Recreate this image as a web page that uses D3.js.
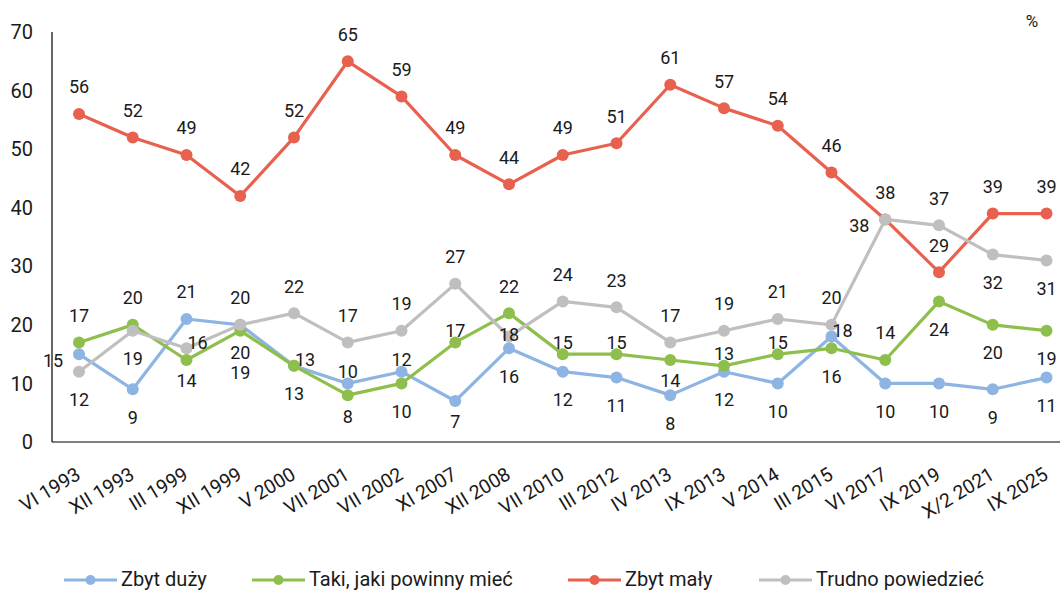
<!DOCTYPE html>
<html>
<head>
<meta charset="utf-8">
<script src="https://cdn.jsdelivr.net/npm/d3@7"></script>
<style>
  body { margin: 0; background: #fff; }
  svg { display: block; font-family: Roboto, "Noto Sans", sans-serif; }
</style>
</head>
<body>
<svg></svg>
<script>
// dane z wykresu
const categories = ['VI 1993', 'XII 1993', 'III 1999', 'XII 1999', 'V 2000', 'VII 2001', 'VII 2002',
  'XI 2007', 'XII 2008', 'VII 2010', 'III 2012', 'IV 2013', 'IX 2013', 'V 2014', 'III 2015',
  'VI 2017', 'IX 2019', 'X/2 2021', 'IX 2025'];

const zbytDuzy = [15, 9, 21, 20, 13, 10, 12, 7, 16, 12, 11, 8, 12, 10, 18, 10, 10, 9, 11];
const takiJaki = [17, 20, 14, 19, 13, 8, 10, 17, 22, 15, 15, 14, 13, 15, 16, 14, 24, 20, 19];
const zbytMaly = [56, 52, 49, 42, 52, 65, 59, 49, 44, 49, 51, 61, 57, 54, 46, 38, 29, 39, 39];
const trudno = [12, 19, 16, 20, 22, 17, 19, 27, 18, 24, 23, 17, 19, 21, 20, 38, 37, 32, 31];

const seriesNames = ['Zbyt duży', 'Taki, jaki powinny mieć', 'Zbyt mały', 'Trudno powiedzieć'];
const yTicks = [0, 10, 20, 30, 40, 50, 60, 70];

// rozmieszczenie etykiet (a = nad, b = pod, l = lewo, r = prawo, c = środek ...)
const labelPos = [
  ['l', 'b', 'a', 'b', 'b', 'A', 'A', 'B', 'b', 'b', 'b', 'b', 'b', 'b', 'r', 'b', 'b', 'b', 'b'],
  ['a', 'a', 'B', 'D', 'r', 'B', 'b', 'A', 'a', 'A', 'A', 'B', 'A', 'A', 'b', 'a', 'b', 'b', 'b'],
  ['a', 'a', 'a', 'a', 'a', 'a', 'a', 'a', 'a', 'a', 'a', 'a', 'a', 'a', 'a', 'l', 'a', 'a', 'a'],
  ['b', 'b', 'r', 'a', 'a', 'a', 'a', 'a', 'c', 'a', 'a', 'a', 'a', 'a', 'a', 'a', 'a', 'b', 'b']
];
const offsets = {
  a: [0, -27], A: [0, -12], b: [0, 28], B: [0, 21], D: [0, 42],
  l: [-26, 6], r: [11, -6], c: [0, -2]
};

const colors = ['#8DB4E2', '#8EBF4C', '#E8604E', '#BFBFBF'];

const WIDTH = 1060;
const HEIGHT = 591;
const AXIS_LEFT = 52;
const AXIS_RIGHT = 1060;
const TOP = 32;
const BOTTOM = 442;

const svg = d3.select('svg').
attr('width', WIDTH).
attr('height', HEIGHT);

const x = d3.scalePoint().
domain(categories).
range([79, 1046.5]);

const y = d3.scaleLinear().
domain([0, 70]).
range([BOTTOM, TOP]);

// osie
svg.append('line').
attr('x1', AXIS_LEFT).attr('x2', AXIS_LEFT).
attr('y1', TOP).attr('y2', BOTTOM).
attr('stroke', '#000').attr('stroke-width', 1.2);

svg.append('line').
attr('x1', AXIS_LEFT).attr('x2', AXIS_RIGHT).
attr('y1', BOTTOM).attr('y2', BOTTOM).
attr('stroke', '#000').attr('stroke-width', 1.2);

svg.append('g').
selectAll('text').
data(yTicks).
enter().
append('text').
attr('x', 33).
attr('y', d => y(d)).
attr('dy', '0.36em').
attr('text-anchor', 'end').
attr('font-size', 20).
attr('fill', '#1a1a1a').
text(d => d);

svg.append('g').
selectAll('text').
data(categories).
enter().
append('text').
attr('transform', d => `translate(${x(d) + 3}, 478) rotate(-31)`).
attr('text-anchor', 'end').
attr('font-size', 19.5).
attr('fill', '#1a1a1a').
text(d => d);

svg.append('text').
attr('x', 1032).
attr('y', 21).
attr('dy', '0.36em').
attr('text-anchor', 'middle').
attr('font-size', 17).
attr('fill', '#1a1a1a').
text('%');

// serie
const allSeries = [zbytDuzy, takiJaki, zbytMaly, trudno];

const line = d3.line().
x((d, i) => x(categories[i])).
y(d => y(d));

allSeries.forEach((values, s) => {
  const g = svg.append('g').attr('class', 'series');
  g.append('path').
  attr('d', line(values)).
  attr('fill', 'none').
  attr('stroke', colors[s]).
  attr('stroke-width', 3.2).
  attr('stroke-linejoin', 'round');
  g.selectAll('circle').
  data(values).
  enter().
  append('circle').
  attr('cx', (d, i) => x(categories[i])).
  attr('cy', d => y(d)).
  attr('r', 6).
  attr('fill', colors[s]);
});

// etykiety danych
allSeries.forEach((values, s) => {
  svg.append('g').
  selectAll('text').
  data(values).
  enter().
  append('text').
  attr('x', (d, i) => x(categories[i]) + offsets[labelPos[s][i]][0]).
  attr('y', (d, i) => y(d) + offsets[labelPos[s][i]][1]).
  attr('dy', '0.36em').
  attr('text-anchor', 'middle').
  attr('font-size', 18).
  attr('fill', '#1a1a1a').
  text(d => d);
});

// legenda
const legendX = [64, 252, 568, 759];
const legend = svg.append('g').attr('transform', 'translate(0, 580)');
seriesNames.forEach((name, s) => {
  const lg = legend.append('g').attr('transform', `translate(${legendX[s]}, 0)`);
  lg.append('line').
  attr('x1', 0).attr('x2', 53).
  attr('stroke', colors[s]).
  attr('stroke-width', 3.2);
  lg.append('circle').
  attr('cx', 26.5).
  attr('r', 5).
  attr('fill', colors[s]);
  lg.append('text').
  attr('x', 57).
  attr('y', 6).
  attr('font-size', 20).
  attr('fill', '#1a1a1a').
  text(name);
});
</script>
</body>
</html>
